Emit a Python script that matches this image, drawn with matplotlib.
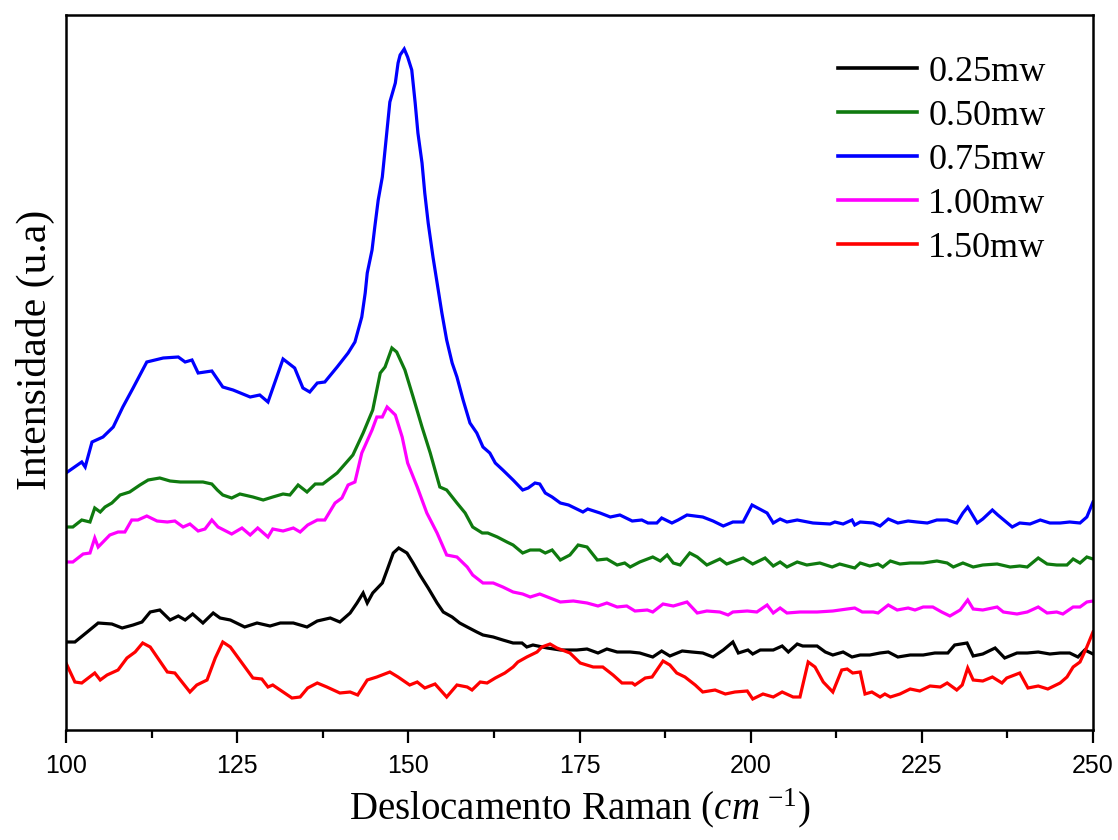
import matplotlib
matplotlib.use("Agg")
import matplotlib.pyplot as plt
from matplotlib.ticker import MultipleLocator

plt.rcParams["mathtext.fontset"] = "custom"
plt.rcParams["mathtext.it"] = "Liberation Serif:italic"
plt.rcParams["mathtext.rm"] = "Liberation Serif"
plt.rcParams["mathtext.cal"] = "Liberation Serif"
plt.rcParams["mathtext.bf"] = "Liberation Serif:bold"

# ---- data (Raman shift in cm^-1, intensity in arbitrary units) ----
x_075 = [100.0, 102.3, 102.8, 103.8, 105.4, 106.9, 108.3, 109.8, 111.8, 114.2, 116.4, 117.4, 118.4, 119.3,
         121.3, 122.9, 124.4, 126.9, 128.3, 129.5, 131.7, 133.4, 134.6, 135.6, 136.7, 137.8, 139.6, 141.2,
         142.2, 143.2, 143.7, 144.0, 144.7, 145.1, 145.6, 146.2, 146.6, 147.0, 147.3, 148.1, 148.5, 148.8,
         149.4, 149.9, 150.5, 151.0, 151.4, 152.0, 152.4, 152.9, 153.6, 154.3, 154.9, 155.6, 156.4, 157.1,
         158.0, 159.0, 160.0, 160.9, 161.9, 162.7, 163.8, 165.3, 166.7, 167.5, 168.5, 169.2, 170.0, 171.0,
         172.2, 173.4, 175.5, 176.2, 178.0, 179.5, 180.9, 182.7, 184.1, 185.0, 186.3, 187.0, 188.5, 189.4,
         190.7, 193.0, 194.5, 196.0, 197.4, 198.9, 200.2, 202.4, 203.3, 204.3, 205.3, 206.8, 209.1, 211.6,
         212.3, 213.5, 214.8, 215.2, 216.0, 217.9, 218.9, 220.1, 221.5, 223.0, 224.3, 225.8, 227.2, 228.7,
         230.1, 231.0, 231.7, 233.1, 233.9, 235.3, 236.1, 238.2, 239.3, 240.8, 242.3, 243.7, 245.2, 246.6,
         248.1, 249.1, 250.0]
y_075 = [257, 268, 263, 288, 293, 303, 323, 342, 368, 372, 373, 368, 370, 357,
         359, 343, 340, 333, 335, 328, 371, 362, 342, 338, 347, 348, 363, 377,
         388, 413, 437, 457, 480, 503, 530, 553, 580, 607, 628, 647, 667, 675,
         681, 673, 660, 627, 597, 567, 537, 507, 473, 443, 417, 390, 367, 353,
         330, 307, 297, 283, 277, 267, 260, 250, 240, 242, 247, 246, 237, 233,
         227, 225, 218, 221, 217, 213, 215, 209, 210, 207, 207, 212, 207, 210,
         215, 213, 209, 204, 208, 208, 225, 217, 207, 211, 208, 210, 207, 206,
         208, 206, 210, 205, 208, 207, 204, 211, 207, 209, 208, 207, 210, 210,
         207, 217, 223, 207, 211, 220, 215, 203, 207, 206, 210, 207, 207, 208,
         207, 213, 228]

x_050 = [100.0, 101.0, 102.3, 103.5, 104.2, 105.0, 105.7, 106.7, 107.9, 109.3, 110.8, 112.0, 113.7, 115.2,
         116.7, 120.0, 121.3, 122.1, 122.9, 124.2, 125.4, 127.3, 128.8, 130.2, 131.7, 132.7, 133.9, 135.2,
         136.4, 137.5, 139.6, 141.9, 143.4, 144.8, 145.9, 146.6, 147.6, 148.3, 149.5, 150.7, 152.0, 153.2,
         154.6, 155.6, 157.1, 158.3, 159.4, 160.8, 161.6, 163.0, 164.4, 165.3, 166.7, 167.8, 169.2, 170.0,
         171.0, 172.2, 173.6, 174.8, 176.1, 177.6, 179.0, 180.5, 181.6, 182.4, 183.8, 185.7, 186.8, 187.8,
         188.7, 189.7, 191.1, 192.2, 193.6, 195.5, 196.5, 198.9, 200.3, 202.1, 203.3, 204.3, 205.3, 206.8,
         208.2, 210.1, 211.9, 213.0, 215.2, 216.0, 217.4, 218.6, 219.3, 220.4, 221.8, 223.3, 225.2, 227.2,
         228.7, 229.6, 231.0, 232.5, 233.9, 236.0, 237.9, 239.3, 240.4, 242.0, 243.3, 244.7, 246.2, 247.1,
         248.1, 249.1, 250.0]
y_050 = [203, 203, 210, 208, 222, 218, 223, 227, 235, 238, 245, 250, 252, 249,
         248, 248, 246, 240, 235, 232, 236, 233, 230, 233, 236, 235, 245, 238,
         246, 246, 257, 275, 297, 320, 357, 363, 382, 378, 360, 333, 303, 277,
         243, 240, 227, 217, 203, 197, 197, 193, 188, 185, 177, 180, 180, 177,
         180, 170, 175, 185, 183, 170, 171, 165, 167, 163, 168, 173, 169, 175,
         167, 165, 177, 173, 165, 171, 166, 172, 166, 172, 164, 168, 163, 168,
         165, 167, 163, 166, 162, 167, 164, 166, 163, 169, 166, 167, 167, 169,
         167, 163, 167, 163, 165, 166, 163, 164, 163, 172, 166, 165, 165, 171,
         167, 173, 171]

x_100 = [100.0, 101.0, 102.5, 103.5, 104.2, 104.7, 106.4, 107.6, 108.6, 109.6, 110.5, 111.8, 113.3, 114.8,
         115.9, 117.1, 118.1, 119.3, 120.3, 121.3, 122.2, 124.2, 125.7, 126.9, 128.0, 129.5, 130.2, 131.7,
         133.2, 134.2, 135.3, 136.7, 137.8, 139.3, 140.3, 141.2, 142.2, 143.2, 144.7, 145.4, 146.2, 146.9,
         148.1, 149.1, 149.9, 151.3, 152.7, 154.2, 155.6, 157.1, 158.6, 159.4, 160.9, 162.4, 163.8, 165.3,
         166.7, 167.8, 169.2, 170.7, 172.2, 174.1, 176.1, 177.7, 179.0, 180.5, 181.9, 183.1, 184.9, 185.7,
         187.2, 188.7, 190.7, 192.2, 193.6, 195.5, 196.7, 197.4, 199.5, 200.9, 202.4, 203.3, 204.3, 205.3,
         207.2, 209.7, 212.0, 214.1, 215.2, 216.3, 217.9, 218.6, 220.1, 221.4, 223.0, 224.0, 225.2, 226.6,
         227.9, 229.1, 230.6, 231.7, 232.5, 233.9, 236.0, 236.9, 238.9, 240.4, 242.0, 243.3, 244.7, 245.6,
         247.1, 248.1, 249.1, 250.0]
y_100 = [168, 168, 176, 177, 192, 183, 195, 198, 198, 210, 210, 214, 209, 208,
         209, 203, 206, 199, 201, 210, 203, 196, 202, 195, 202, 193, 201, 199,
         202, 198, 205, 210, 210, 227, 232, 245, 248, 277, 300, 313, 313, 323,
         315, 293, 267, 243, 217, 197, 175, 173, 163, 155, 147, 147, 143, 138,
         136, 133, 136, 132, 128, 129, 127, 124, 127, 123, 124, 119, 120, 118,
         126, 124, 128, 117, 119, 118, 115, 118, 119, 118, 125, 117, 122, 117,
         118, 118, 119, 121, 122, 118, 118, 117, 125, 120, 122, 120, 123, 123,
         118, 114, 120, 130, 121, 120, 123, 118, 116, 118, 123, 117, 118, 116,
         123, 123, 128, 129]

x_025 = [100.0, 101.3, 103.1, 104.7, 106.7, 108.2, 109.8, 111.1, 112.3, 113.7, 115.2, 116.4, 117.4, 118.5,
         120.0, 121.5, 122.5, 124.0, 126.1, 127.9, 129.8, 131.3, 133.2, 135.2, 136.7, 138.6, 140.0, 141.5,
         142.5, 143.4, 144.0, 144.8, 146.2, 146.9, 147.8, 148.6, 149.8, 150.7, 151.7, 152.9, 154.2, 155.1,
         156.4, 157.5, 158.6, 160.0, 160.9, 162.4, 163.8, 165.3, 166.6, 167.3, 168.2, 170.3, 172.2, 174.6,
         176.1, 177.7, 179.0, 180.5, 182.4, 183.8, 185.7, 187.0, 188.2, 190.0, 191.4, 193.0, 194.5, 196.0,
         197.4, 198.2, 199.6, 200.3, 201.4, 203.3, 204.6, 205.5, 206.8, 207.6, 209.7, 210.9, 212.0, 213.5,
         214.8, 216.0, 217.4, 218.9, 220.1, 221.5, 223.3, 225.2, 226.9, 228.8, 229.8, 231.6, 232.5, 233.9,
         235.7, 237.1, 238.9, 240.4, 242.0, 243.7, 245.2, 246.6, 247.8, 248.8, 250.0]
y_025 = [88, 88, 98, 107, 106, 102, 105, 108, 118, 120, 110, 114, 110, 116,
         107, 117, 112, 110, 103, 107, 104, 107, 107, 103, 109, 112, 108, 117,
         127, 137, 127, 137, 147, 160, 177, 182, 177, 167, 155, 142, 127, 118,
         113, 107, 103, 98, 95, 93, 90, 87, 87, 83, 85, 82, 80, 80,
         81, 77, 81, 78, 78, 77, 73, 79, 74, 79, 78, 77, 73, 80,
         88, 77, 80, 76, 80, 80, 84, 78, 86, 84, 84, 78, 75, 78,
         73, 75, 75, 77, 78, 73, 75, 75, 77, 77, 85, 87, 74, 76,
         82, 72, 77, 77, 78, 76, 77, 77, 73, 80, 76]

x_150 = [100.0, 101.3, 102.3, 104.2, 105.0, 106.0, 107.6, 108.9, 110.1, 111.2, 112.3, 114.8, 115.9, 118.1,
         119.1, 120.6, 121.8, 122.9, 124.0, 127.3, 128.6, 129.5, 130.2, 133.0, 134.2, 135.3, 136.7, 138.1,
         140.0, 141.5, 142.6, 144.0, 145.4, 147.3, 148.5, 150.2, 151.3, 152.4, 153.9, 155.6, 157.1, 158.6,
         159.3, 160.5, 161.5, 162.7, 164.1, 165.3, 166.0, 167.3, 168.8, 169.5, 170.7, 171.7, 173.6, 175.1,
         177.0, 178.4, 179.9, 181.2, 182.7, 183.1, 184.6, 185.6, 187.2, 188.2, 189.2, 190.4, 191.9, 193.0,
         194.8, 196.3, 197.7, 199.5, 200.3, 201.8, 203.3, 204.6, 206.2, 207.2, 208.4, 209.4, 210.6, 212.0,
         213.3, 214.1, 214.9, 216.0, 216.7, 217.7, 218.9, 219.6, 220.4, 221.8, 223.3, 224.7, 226.2, 227.7,
         228.7, 230.1, 230.9, 231.7, 232.5, 233.9, 235.3, 236.7, 237.4, 239.3, 240.5, 242.0, 243.4, 245.2,
         246.2, 247.1, 248.1, 249.1, 250.0]
y_150 = [67, 48, 47, 57, 50, 55, 60, 72, 78, 87, 83, 58, 57, 38,
         45, 50, 72, 88, 83, 52, 51, 43, 45, 32, 33, 42, 47, 43,
         37, 38, 35, 50, 53, 58, 53, 45, 48, 42, 46, 33, 45, 43,
         40, 48, 47, 52, 57, 63, 68, 73, 78, 83, 86, 82, 77, 67,
         63, 63, 55, 47, 47, 45, 52, 53, 69, 65, 57, 53, 45, 38,
         40, 36, 38, 39, 31, 36, 33, 38, 33, 33, 68, 63, 48, 38,
         60, 61, 57, 58, 36, 38, 33, 36, 33, 36, 41, 39, 44, 43,
         47, 40, 45, 62, 50, 49, 53, 47, 52, 57, 42, 44, 41, 47,
         53, 63, 68, 83, 98]

series = [
    ("0.25mw", x_025, y_025, "black"),
    ("0.50mw", x_050, y_050, "#0f7a0f"),
    ("0.75mw", x_075, y_075, "#0000ff"),
    ("1.00mw", x_100, y_100, "#ff00ff"),
    ("1.50mw", x_150, y_150, "#ff0000"),
]
x_ticks = [100, 125, 150, 175, 200, 225, 250]

fig = plt.figure(figsize=(11.18, 8.40), dpi=100)
ax = fig.add_axes([66 / 1118, 1 - 730 / 840, (1093 - 66) / 1118, (730 - 15) / 840])

for label, xs, ys, col in series:
    ax.plot(xs, ys, color=col, lw=2.3, label=label, solid_joinstyle="miter")

ax.set_xlim(100, 250)
ax.set_ylim(0, 715)
ax.set_xticks(x_ticks)
ax.xaxis.set_minor_locator(MultipleLocator(12.5))
ax.set_yticks([])
ax.tick_params(axis="x", which="major", direction="out", length=9.5, width=1.6,
               labelsize=18, pad=8)
ax.tick_params(axis="x", which="minor", direction="out", length=5.5, width=1.6)
for lab in ax.get_xticklabels():
    lab.set_fontfamily(["Liberation Sans", "DejaVu Sans"])
for sp in ax.spines.values():
    sp.set_linewidth(1.8)

serif = ["Liberation Serif", "DejaVu Serif"]
ax.set_xlabel(r"Deslocamento Raman ($cm^{\,\,\mathit{-1}}$)", fontsize=28,
              fontfamily=serif, labelpad=6)
ax.set_ylabel("Intensidade (u.a)", fontsize=30, fontfamily=serif)
ax.yaxis.set_label_coords(-0.011, 0.531)

leg = ax.legend(loc="upper right", bbox_to_anchor=(0.975, 0.974), frameon=False,
                prop={"family": serif, "size": 26}, handlelength=2.2,
                handletextpad=0.3, labelspacing=0.3, borderaxespad=0.2)
for h in leg.get_lines():
    h.set_linewidth(2.6)

fig.savefig("out.png", dpi=100)
